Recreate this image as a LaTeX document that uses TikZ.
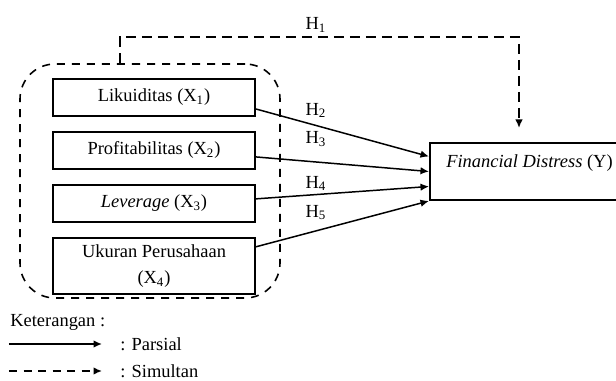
\documentclass[tikz,border=0pt]{standalone}
\usepackage{fontspec}
\setmainfont{Liberation Serif}
\usepackage{tikz}
\usetikzlibrary{positioning}
\usetikzlibrary{arrows.meta}

\begin{document}
\begin{tikzpicture}[font=\fontsize{10.5pt}{14.8pt}\selectfont,
	var/.style = {draw, line width=1.1pt, rectangle, align=center, minimum width=4.04cm, minimum height=0.74cm, inner sep=0pt},
	dep/.style = {draw, line width=1.1pt, rectangle, align=center, minimum width=3.98cm, minimum height=1.14cm, inner sep=0pt, text height=0.33cm, text depth=0.47cm},
	grp/.style = {draw, line width=0.9pt, dash pattern=on 0.16cm off 0.14cm, rounded corners=0.7cm, minimum width=5.2cm, minimum height=4.68cm},
	parsial/.style = {line width=0.85pt, -{Latex[length=0.17cm, width=0.15cm]}},
	simultan/.style = {line width=0.9pt, dash pattern=on 0.16cm off 0.13cm, -{Latex[length=0.17cm, width=0.15cm]}},
	hyp/.style = {inner sep=0pt},
	legtext/.style = {inner sep=0pt, anchor=west}]

\useasboundingbox (0,0) rectangle (12.32,7.62);

% variabel independen
\node[grp] (grp) at (3.0,4.0) {};
\node[var] (x1) at (3.08,5.67) {Likuiditas (X\textsubscript{1})};
\node[var, below=0.28cm of x1] (x2) {Profitabilitas (X\textsubscript{2})};
\node[var, below=0.28cm of x2] (x3) {\textit{Leverage} (X\textsubscript{3})};
\node[var, below=0.28cm of x3, minimum height=1.12cm] (x4) {Ukuran Perusahaan\\(X\textsubscript{4})};

% variabel dependen
\node[dep, anchor=west] (y) at (8.58,4.19) {\textit{Financial Distress} (Y)};

% parsial
\draw[parsial] ([yshift=-0.23cm]x1.east) -- ([yshift=0.3cm]y.west);
\draw[parsial] ([yshift=-0.13cm]x2.east) -- (y.west);
\draw[parsial] ([yshift=0.09cm]x3.east) -- ([yshift=-0.3cm]y.west);
\draw[parsial] ([yshift=0.38cm]x4.east) -- (y.south west);

\node[hyp] (h2) at (6.32,5.41) {H\textsubscript{2}};
\node[hyp] (h3) at (6.32,4.84) {H\textsubscript{3}};
\node[hyp] (h4) at (6.32,3.95) {H\textsubscript{4}};
\node[hyp] (h5) at (6.32,3.37) {H\textsubscript{5}};

% simultan
\coordinate (h1a) at (2.4,6.88);
\coordinate (h1b) at (10.38,5.06);
\draw[simultan, dash pattern=on 0.21cm off 0.11cm] (grp.north -| h1a) -- (h1a) -| (h1b);
\node[hyp] (h1) at (6.32,7.12) {H\textsubscript{1}};

% keterangan
\node[legtext] (ket) at (0.2,1.18) {Keterangan :};
\node[legtext] (lpar) at (2.4,0.74) {: Parsial};
\node[legtext] (lsim) at (2.4,0.2) {: Simultan};
\coordinate (lpar0) at (0.18,0.74);
\coordinate (lsim0) at (0.18,0.2);
\draw[parsial] (lpar0) -- ([xshift=-0.36cm]lpar.west);
\draw[simultan] (lsim0) -- ([xshift=-0.36cm]lsim.west);

\end{tikzpicture}
\end{document}
